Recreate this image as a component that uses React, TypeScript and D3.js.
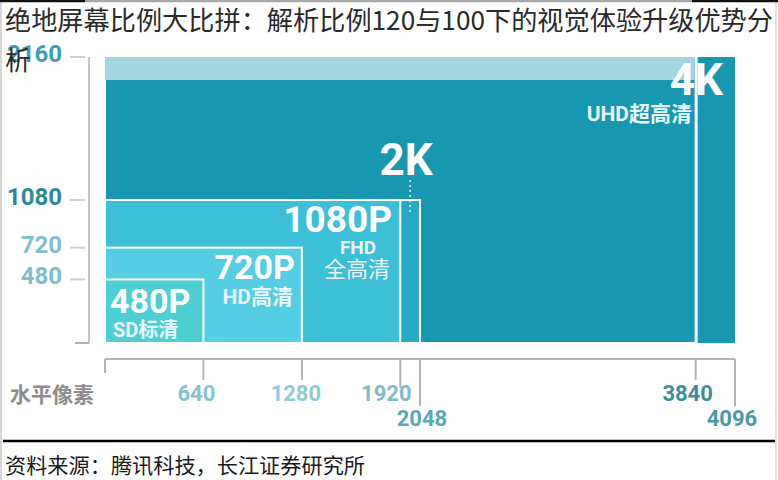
import React from "react";
import * as d3 from "d3";

const titleLine1 = "绝地屏幕比例大比拼：解析比例120与100下的视觉体验升级优势分";
const titleLine2 = "析";
const sourceText = "资料来源：腾讯科技，长江证券研究所";

// resolutions (width x height in pixels)
const resNames = ["480P", "720P", "1080P", "2K", "UHD", "4K"];
const resW = [640, 1280, 1920, 2048, 3840, 4096];
const resH = [480, 720, 1080, 1080, 2160, 2160];
const resFill = ["#4dcfd3", "#55cde2", "#3ebfd8", "#27a9c5", "#1898b0", "#1898b0"];
const resStroke = ["#ffffff", "#ffffff", "#ffffff", "#ffffff", "#ffffff", "none"];

const yTicks = [2160, 1080, 720, 480];
const yTickColors = ["#3a9db0", "#2d8996", "#80c0cb", "#7dbeca"];

const xTicks = [640, 1280, 1920, 2048, 3840, 4096];
const xTickRow = [0, 0, 0, 1, 0, 1];
const xTickColors = ["#84c3cf", "#8fcad5", "#7fbdca", "#5aa8b6", "#3d8e9b", "#4b98a6"];
const xAxisTitle = "水平像素";

const NUM_FONT = "Roboto, 'Noto Sans CJK SC', sans-serif";
const CJK_FONT = "'Noto Sans CJK SC', sans-serif";

export default function App() {
  const x = d3.scaleLinear().domain([0, 4096]).range([105, 735]);
  const y = d3.scaleLinear().domain([0, 2160]).range([343, 57]);

  const order = d3.range(resW.length).sort((a, b) => resW[b] * resH[b] - resW[a] * resH[a]);

  const tickLen = [21, 21, 29, 47, 21, 47];
  const labelDx = [-7, -6, -14, 2, -8, -3];

  return (
    <svg
      width={778}
      height={480}
      style={{ position: "absolute", left: 0, top: 0, background: "#ffffff" }}
    >
      {/* frame lines */}
      <line x1={1} x2={1} y1={0} y2={480} stroke="#d6d6d6" strokeWidth={2} />
      <line x1={776} x2={776} y1={0} y2={480} stroke="#e0e0e0" strokeWidth={2} />
      <line x1={0} x2={85} y1={1} y2={1} stroke="#111" strokeWidth={2.5} />
      <line x1={85} x2={692} y1={1} y2={1} stroke="#a8a8a8" strokeWidth={2.5} />
      <line x1={692} x2={778} y1={1} y2={1} stroke="#111" strokeWidth={2.5} />

      {/* rectangles */}
      {order.map((i) => (
        <rect
          key={resNames[i]}
          x={x(0)}
          y={y(resH[i])}
          width={x(resW[i]) - x(0)}
          height={y(0) - y(resH[i])}
          fill={resFill[i]}
          stroke={resStroke[i]}
          strokeWidth={2}
        />
      ))}
      {/* light band on top of UHD */}
      <rect x={x(0)} y={y(2160)} width={x(3840) - x(0) - 1} height={23} fill="#a3d5df" />
      <line x1={x(3840) + 1} x2={x(3840) + 1} y1={y(2160)} y2={y(0)} stroke="#ffffff" strokeWidth={2} />

      {/* 2K dotted pointer */}
      <line
        x1={(x(1920) + x(2048)) / 2}
        x2={(x(1920) + x(2048)) / 2}
        y1={180}
        y2={212}
        stroke="#ffffff"
        strokeWidth={1.6}
        strokeDasharray="2,3"
        opacity={0.8}
      />

      {/* rectangle labels */}
      <g fill="#ffffff" fontWeight="bold">
        <text x={723} y={95} textAnchor="end" fontFamily={NUM_FONT} fontSize={44}>4K</text>
        <text x={692} y={121} textAnchor="end" fontFamily={NUM_FONT} fontSize={21} fill="#e8f7fa">UHD超高清</text>
        <text x={406} y={175} textAnchor="middle" fontFamily={NUM_FONT} fontSize={44}>2K</text>
        <text x={392} y={232} textAnchor="end" fontFamily={NUM_FONT} fontSize={37}>1080P</text>
        <text x={358} y={254} textAnchor="middle" fontFamily={NUM_FONT} fontSize={19} fill="#e8f7fa">FHD</text>
        <text x={357} y={277} textAnchor="middle" fontFamily={NUM_FONT} fontSize={22} fontWeight="normal" fill="#e8f7fa">全高清</text>
        <text x={295} y={279} textAnchor="end" fontFamily={NUM_FONT} fontSize={34}>720P</text>
        <text x={293} y={304} textAnchor="end" fontFamily={NUM_FONT} fontSize={21} fill="#e8f7fa">HD高清</text>
        <text x={110} y={313} textAnchor="start" fontFamily={NUM_FONT} fontSize={34}>480P</text>
        <text x={113} y={337} textAnchor="start" fontFamily={NUM_FONT} fontSize={20} fill="#e8f7fa">SD标清</text>
      </g>

      {/* y axis */}
      <line x1={89} x2={89} y1={y(2160)} y2={y(0)} stroke="#c4c4c4" strokeWidth={2} />
      <line x1={75} x2={89} y1={y(0)} y2={y(0)} stroke="#b0b0b0" strokeWidth={2} />
      {yTicks.map((v, i) => (
        <g key={v}>
          <line x1={70} x2={85} y1={y(v)} y2={y(v)} stroke="#cfcfcf" strokeWidth={2} />
          <text
            x={62}
            y={y(v) - 3}
            textAnchor="end"
            dominantBaseline="central"
            fontFamily={NUM_FONT}
            fontWeight="bold"
            fontSize={24}
            fill={yTickColors[i]}
          >
            {v}
          </text>
        </g>
      ))}

      {/* x axis */}
      <line x1={x(0)} x2={x(4096)} y1={359} y2={359} stroke="#b3b3b3" strokeWidth={2} />
      <line x1={x(0)} x2={x(0)} y1={359} y2={373} stroke="#b3b3b3" strokeWidth={2} />
      {xTicks.map((v, i) => (
        <g key={v}>
          <line x1={x(v)} x2={x(v)} y1={359} y2={359 + tickLen[i]} stroke="#b3b3b3" strokeWidth={2} />
          <text
            x={x(v) + labelDx[i]}
            y={xTickRow[i] === 0 ? 401 : 426}
            textAnchor="middle"
            fontFamily={NUM_FONT}
            fontWeight="bold"
            fontSize={22}
            fill={xTickColors[i]}
          >
            {v}
          </text>
        </g>
      ))}
      <text x={10} y={402} fontFamily={CJK_FONT} fontWeight="bold" fontSize={21} fill="#8c8c8c">
        {xAxisTitle}
      </text>

      {/* title */}
      <text x={5} y={30} fontFamily={CJK_FONT} fontSize={26} fill="#2a2a2a" textLength={768} lengthAdjust="spacingAndGlyphs">
        {titleLine1}
      </text>
      <text x={5} y={70} fontFamily={CJK_FONT} fontSize={26} fill="#2a2a2a">
        {titleLine2}
      </text>

      {/* bottom rule + source */}
      <line x1={3} x2={775} y1={441} y2={441} stroke="#000" strokeWidth={2.5} />
      <text x={5} y={473} fontFamily={CJK_FONT} fontSize={21} fill="#1a1a1a" textLength={360} lengthAdjust="spacingAndGlyphs">
        {sourceText}
      </text>
    </svg>
  );
}
